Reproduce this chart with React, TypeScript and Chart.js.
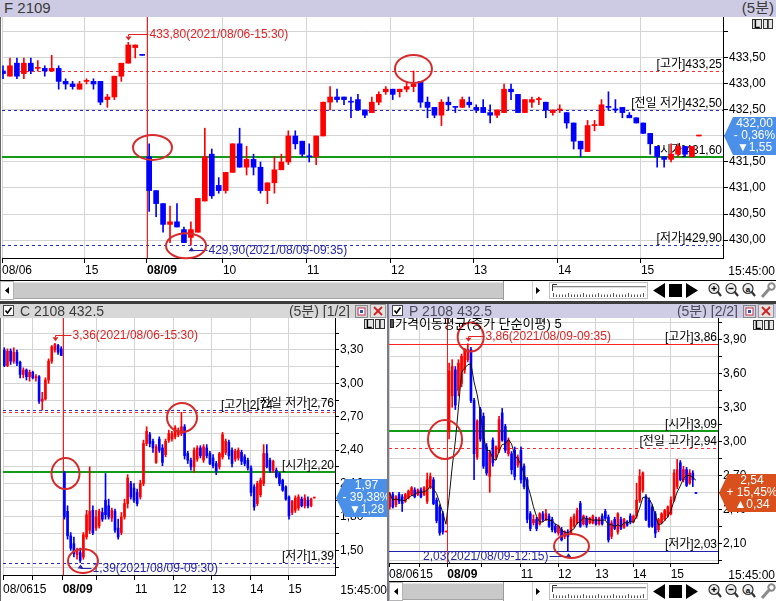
import React, { useEffect, useRef } from 'react';
import { Chart, registerables } from 'chart.js';

Chart.register(...registerables);

const FONT = "'Liberation Sans', 'Noto Sans CJK KR', sans-serif";
const GRID = '#d4d4d4';
const UP = '#ff0000';
const DOWN = '#0000ff';

// ---------------- F 2109 (top panel) : [open, high, low, close] ----------------
const F_OHLC = [
  [433.25, 433.35, 433.10, 433.20], [433.15, 433.50, 433.15, 433.35], [433.40, 433.50, 433.10, 433.15],
  [433.20, 433.50, 433.10, 433.40], [433.40, 433.50, 433.20, 433.25], [433.30, 433.45, 433.25, 433.30],
  [433.30, 433.35, 433.15, 433.25], [433.25, 433.55, 433.25, 433.30], [433.30, 433.35, 432.90, 433.05],
  [433.05, 433.10, 432.90, 433.00], [433.00, 433.05, 432.90, 432.95], [432.90, 433.05, 432.90, 433.00],
  [433.05, 433.10, 433.00, 433.05], [433.05, 433.10, 432.90, 433.00], [433.05, 433.05, 432.60, 432.65],
  [432.70, 432.80, 432.55, 432.75], [432.75, 433.15, 432.70, 433.15], [433.15, 433.40, 433.05, 433.40],
  [433.40, 433.80, 433.40, 433.75], [433.70, 433.75, 433.50, 433.75], [433.55, 433.55, 433.55, 433.55],
  [431.60, 431.85, 430.55, 430.95], [430.95, 430.95, 430.45, 430.70], [430.70, 430.70, 430.15, 430.30],
  [430.30, 430.65, 429.95, 430.35], [430.35, 430.70, 430.25, 430.25], [430.20, 430.25, 429.95, 429.95],
  [430.05, 430.35, 429.90, 430.20], [430.15, 430.80, 430.15, 430.80], [430.75, 432.15, 430.75, 431.60],
  [431.65, 431.75, 430.80, 430.85], [431.05, 431.20, 430.90, 430.95], [430.95, 431.30, 430.90, 431.30],
  [431.30, 431.85, 431.30, 431.85], [431.85, 432.15, 431.40, 431.40], [431.40, 431.80, 431.25, 431.55],
  [431.55, 431.65, 431.25, 431.40], [431.40, 431.50, 430.90, 430.95], [430.95, 431.10, 430.70, 431.10],
  [431.10, 431.60, 430.90, 431.35], [431.35, 431.65, 431.35, 431.50], [431.50, 432.10, 431.45, 432.00],
  [432.00, 432.10, 431.75, 431.85], [431.90, 431.90, 431.60, 431.65], [431.60, 431.85, 431.50, 431.60],
  [431.60, 432.00, 431.45, 432.00], [432.00, 432.65, 432.00, 432.65], [432.65, 432.95, 432.50, 432.75],
  [432.75, 432.90, 432.65, 432.70], [432.75, 432.75, 432.60, 432.70], [432.65, 432.75, 432.35, 432.65],
  [432.70, 432.80, 432.50, 432.50], [432.50, 432.50, 432.35, 432.40], [432.45, 432.75, 432.45, 432.65],
  [432.65, 432.85, 432.60, 432.80], [432.85, 432.95, 432.80, 432.90], [432.90, 432.90, 432.70, 432.80],
  [432.85, 432.90, 432.75, 432.90], [432.90, 433.05, 432.85, 432.95], [432.95, 433.25, 432.85, 433.00],
  [433.05, 433.05, 432.55, 432.65], [432.65, 432.75, 432.35, 432.55], [432.55, 432.55, 432.35, 432.40],
  [432.40, 432.70, 432.20, 432.65], [432.65, 432.75, 432.50, 432.60], [432.55, 432.55, 432.45, 432.55],
  [432.55, 432.75, 432.55, 432.70], [432.65, 432.75, 432.55, 432.60], [432.55, 432.60, 432.45, 432.50],
  [432.55, 432.70, 432.45, 432.45], [432.45, 432.60, 432.25, 432.40], [432.40, 432.50, 432.35, 432.50],
  [432.45, 433.00, 432.45, 432.90], [432.90, 433.00, 432.70, 432.85], [432.80, 432.80, 432.45, 432.45],
  [432.45, 432.70, 432.45, 432.70], [432.65, 432.75, 432.55, 432.70], [432.70, 432.75, 432.60, 432.70],
  [432.65, 432.65, 432.35, 432.50], [432.45, 432.50, 432.40, 432.50], [432.50, 432.60, 432.45, 432.50],
  [432.45, 432.45, 432.15, 432.25], [432.25, 432.25, 431.75, 431.90], [431.90, 431.90, 431.60, 431.75],
  [431.70, 432.30, 431.70, 432.20], [432.20, 432.30, 432.10, 432.20], [432.20, 432.70, 432.20, 432.60],
  [432.55, 432.85, 432.50, 432.55], [432.50, 432.70, 432.45, 432.50], [432.55, 432.55, 432.35, 432.45],
  [432.40, 432.45, 432.35, 432.35], [432.35, 432.35, 432.25, 432.25], [432.25, 432.25, 432.05, 432.05],
  [432.05, 432.05, 431.65, 431.85], [431.80, 431.80, 431.40, 431.60], [431.60, 431.60, 431.40, 431.55],
  [431.55, 431.85, 431.50, 431.65], [431.65, 431.85, 431.60, 431.80], [431.80, 431.80, 431.60, 431.65],
  [431.60, 431.80, 431.60, 431.80], [432.00, 432.00, 432.00, 432.00],
];
const F_X_TICKS = [-0.144, 11.78, 20.69, 31.6, 43.68, 55.75, 67.67, 79.74, 91.67];
const F_X_LABELS = ['08/06', '15', '08/09', '10', '11', '12', '13', '14', '15'];
const F_Y_TICKS = [430, 430.5, 431, 431.5, 432, 432.5, 433, 433.5, 434];
const F_Y_LABELLED = [430, 430.5, 431, 431.5, 432, 432.5, 433, 433.5];
const F_LEVEL_TEXT = ['[고가]', '[전일 저가]', '[시가]', '[저가]'];
const F_LEVEL_VALUE = [433.25, 432.5, 431.6, 429.9];
const F_LAST_TEXT = ['432,00', '- 0,36%', '▼1,55'];
const F_LAST_VALUE = 432.0;

// ---------------- C 2108 432.5 (bottom left) ----------------
const C_OHLC = [
  [3.30, 3.32, 3.15, 3.16], [3.16, 3.31, 3.15, 3.29], [3.29, 3.31, 3.17, 3.20], [3.20, 3.32, 3.18, 3.28],
  [3.28, 3.30, 3.16, 3.18], [3.19, 3.20, 3.05, 3.08], [3.08, 3.14, 3.05, 3.12], [3.12, 3.13, 3.03, 3.06],
  [3.06, 3.12, 3.02, 3.10], [3.10, 3.11, 3.04, 3.05], [3.05, 3.08, 3.02, 3.06], [3.06, 3.07, 2.82, 2.84],
  [2.84, 2.92, 2.76, 2.86], [2.86, 3.05, 2.85, 3.03], [3.03, 3.22, 3.00, 3.20], [3.20, 3.34, 3.18, 3.33],
  [3.30, 3.36, 3.28, 3.35], [3.34, 3.35, 3.26, 3.28], [3.31, 3.33, 3.25, 3.25],
  [2.20, 2.21, 1.78, 1.80], [1.85, 1.90, 1.60, 1.63], [1.63, 1.66, 1.50, 1.52], [1.56, 1.62, 1.44, 1.47],
  [1.46, 1.52, 1.42, 1.50], [1.48, 1.52, 1.39, 1.41], [1.44, 1.66, 1.42, 1.64], [1.62, 1.86, 1.60, 1.82],
  [1.68, 2.25, 1.65, 1.85], [1.86, 1.90, 1.64, 1.66], [1.70, 1.86, 1.68, 1.80], [1.72, 1.87, 1.70, 1.85],
  [1.84, 1.88, 1.76, 1.78], [1.95, 2.19, 1.78, 1.82], [1.90, 1.96, 1.78, 1.80], [1.79, 1.88, 1.76, 1.86],
  [1.85, 1.87, 1.66, 1.68], [1.70, 1.78, 1.60, 1.62], [1.66, 1.84, 1.64, 1.80], [1.80, 1.96, 1.78, 1.92],
  [1.92, 2.18, 1.88, 2.15], [2.10, 2.12, 1.96, 1.98], [2.06, 2.10, 1.93, 1.95], [2.02, 2.05, 1.90, 1.92],
  [1.98, 2.13, 1.96, 2.10], [2.10, 2.49, 2.08, 2.46], [2.46, 2.61, 2.44, 2.57], [2.54, 2.56, 2.43, 2.46],
  [2.48, 2.50, 2.38, 2.42], [2.29, 2.45, 2.28, 2.43], [2.50, 2.52, 2.38, 2.40], [2.42, 2.45, 2.26, 2.29],
  [2.36, 2.50, 2.34, 2.48], [2.49, 2.58, 2.47, 2.55], [2.50, 2.57, 2.48, 2.55], [2.52, 2.62, 2.50, 2.60],
  [2.54, 2.60, 2.52, 2.58], [2.55, 2.74, 2.53, 2.61], [2.61, 2.63, 2.32, 2.35], [2.37, 2.39, 2.28, 2.31],
  [2.31, 2.33, 2.22, 2.25], [2.25, 2.42, 2.20, 2.40], [2.32, 2.44, 2.30, 2.42], [2.42, 2.44, 2.33, 2.35],
  [2.31, 2.45, 2.29, 2.43], [2.42, 2.45, 2.33, 2.35], [2.37, 2.39, 2.27, 2.28], [2.33, 2.36, 2.24, 2.26],
  [2.28, 2.30, 2.18, 2.21], [2.25, 2.38, 2.23, 2.37], [2.34, 2.56, 2.32, 2.54], [2.38, 2.50, 2.36, 2.48],
  [2.47, 2.49, 2.32, 2.35], [2.40, 2.42, 2.25, 2.28], [2.32, 2.41, 2.30, 2.39], [2.33, 2.42, 2.31, 2.40],
  [2.38, 2.40, 2.27, 2.30], [2.34, 2.36, 2.26, 2.28], [2.31, 2.33, 2.22, 2.24], [2.24, 2.26, 1.99, 2.02],
  [2.07, 2.09, 1.86, 1.89], [1.92, 2.12, 1.90, 2.10], [2.00, 2.15, 1.98, 2.13], [2.10, 2.45, 2.08, 2.37],
  [2.37, 2.45, 2.24, 2.25], [2.31, 2.33, 2.20, 2.22], [2.22, 2.31, 2.20, 2.30], [2.22, 2.24, 2.15, 2.16],
  [2.19, 2.20, 2.08, 2.10], [2.13, 2.14, 2.03, 2.04], [2.07, 2.08, 1.95, 1.96], [1.98, 1.99, 1.78, 1.81],
  [1.84, 1.95, 1.82, 1.94], [1.86, 1.99, 1.84, 1.97], [1.88, 2.00, 1.86, 1.98], [1.96, 1.98, 1.89, 1.90],
  [1.90, 2.00, 1.88, 1.97], [1.95, 1.98, 1.88, 1.90], [1.90, 1.97, 1.89, 1.96], [1.97, 1.97, 1.97, 1.97],
];
const C_X_TICKS = [-0.411, 9.07, 18.46, 29.21, 41.32, 53.43, 65.57, 77.68, 89.79];
const C_X_LABELS = ['08/06', '15', '08/09', '', '11', '12', '13', '14', '15'];
const C_Y_TICKS = [1.35, 1.5, 1.65, 1.8, 1.95, 2.1, 2.25, 2.4, 2.55, 2.7, 2.85, 3.0, 3.15, 3.3, 3.45];
const C_Y_LABELLED = [1.5, 1.8, 2.1, 2.4, 2.7, 3.0, 3.3];
const C_LEVEL_TEXT = ['[전일 저가]', '[고가]', '[시가]', '[저가]'];
const C_LEVEL_VALUE = [2.76, 2.74, 2.2, 1.39];
const C_LAST_TEXT = ['1,97', '- 39,38%', '▼1,28'];
const C_LAST_VALUE = 1.97;

// ---------------- P 2108 432.5 (bottom right) ----------------
const P_OHLC = [
  [2.42, 2.55, 2.40, 2.54], [2.53, 2.55, 2.41, 2.42], [2.44, 2.52, 2.42, 2.51], [2.53, 2.55, 2.45, 2.47],
  [2.51, 2.53, 2.38, 2.45], [2.47, 2.54, 2.46, 2.53], [2.50, 2.57, 2.49, 2.56], [2.53, 2.60, 2.52, 2.59],
  [2.57, 2.59, 2.50, 2.51], [2.53, 2.58, 2.52, 2.57], [2.57, 2.59, 2.50, 2.51], [2.53, 2.60, 2.52, 2.59],
  [2.47, 2.72, 2.45, 2.66], [2.60, 2.72, 2.58, 2.69], [2.66, 2.68, 2.44, 2.45], [2.48, 2.50, 2.28, 2.30],
  [2.42, 2.44, 2.17, 2.19], [2.36, 2.38, 2.18, 2.20], [2.20, 2.20, 2.20, 2.20],
  [3.09, 3.69, 3.02, 3.62], [3.40, 3.72, 3.30, 3.66], [3.63, 3.66, 3.28, 3.32], [3.45, 3.72, 3.40, 3.69],
  [3.51, 3.77, 3.48, 3.75], [3.63, 3.82, 3.60, 3.81], [3.72, 3.86, 3.70, 3.81], [3.81, 3.83, 3.34, 3.36],
  [3.36, 3.38, 2.66, 2.89], [2.86, 3.19, 2.84, 3.18], [3.28, 3.30, 3.00, 3.02], [3.22, 3.25, 2.76, 2.78],
  [2.95, 2.98, 2.70, 2.72], [2.69, 2.92, 2.55, 2.90], [3.01, 3.03, 2.78, 2.81], [2.86, 2.96, 2.84, 2.95],
  [2.92, 3.22, 2.90, 3.19], [3.25, 3.29, 3.00, 3.01], [3.13, 3.15, 2.90, 2.92], [2.89, 3.03, 2.87, 3.01],
  [2.89, 2.91, 2.71, 2.75], [2.92, 2.95, 2.66, 2.69], [2.79, 2.88, 2.77, 2.86], [2.92, 2.95, 2.63, 2.66],
  [2.78, 2.80, 2.58, 2.60], [2.66, 2.68, 2.28, 2.31], [2.36, 2.38, 2.21, 2.23], [2.28, 2.35, 2.26, 2.31],
  [2.31, 2.33, 2.21, 2.23], [2.27, 2.37, 2.26, 2.36], [2.36, 2.38, 2.29, 2.31], [2.31, 2.40, 2.30, 2.36],
  [2.34, 2.36, 2.24, 2.25], [2.31, 2.33, 2.20, 2.22], [2.25, 2.27, 2.19, 2.20], [2.19, 2.26, 2.17, 2.25],
  [2.22, 2.24, 2.12, 2.13], [2.16, 2.21, 2.14, 2.20], [2.20, 2.22, 2.03, 2.16], [2.19, 2.33, 2.18, 2.31],
  [2.25, 2.36, 2.24, 2.34], [2.28, 2.41, 2.27, 2.39], [2.45, 2.47, 2.24, 2.25], [2.27, 2.35, 2.26, 2.34],
  [2.32, 2.34, 2.24, 2.26], [2.28, 2.33, 2.27, 2.32], [2.28, 2.35, 2.27, 2.34], [2.31, 2.33, 2.26, 2.27],
  [2.27, 2.33, 2.26, 2.32], [2.34, 2.36, 2.26, 2.27], [2.38, 2.40, 2.31, 2.32], [2.33, 2.35, 2.11, 2.13],
  [2.16, 2.30, 2.14, 2.28], [2.31, 2.33, 2.22, 2.23], [2.20, 2.37, 2.18, 2.36], [2.31, 2.33, 2.22, 2.23],
  [2.24, 2.32, 2.23, 2.31], [2.29, 2.30, 2.25, 2.26], [2.34, 2.36, 2.27, 2.29], [2.29, 2.35, 2.28, 2.34],
  [2.34, 2.63, 2.32, 2.48], [2.48, 2.75, 2.46, 2.69], [2.57, 2.73, 2.55, 2.72], [2.51, 2.53, 2.30, 2.31],
  [2.48, 2.50, 2.24, 2.25], [2.42, 2.44, 2.24, 2.25], [2.36, 2.38, 2.15, 2.19], [2.22, 2.32, 2.20, 2.31],
  [2.28, 2.37, 2.27, 2.36], [2.31, 2.40, 2.30, 2.39], [2.34, 2.43, 2.33, 2.42], [2.36, 2.51, 2.35, 2.48],
  [2.48, 2.75, 2.47, 2.72], [2.60, 2.84, 2.58, 2.75], [2.81, 2.83, 2.65, 2.66], [2.66, 2.78, 2.64, 2.75],
  [2.75, 2.77, 2.60, 2.61], [2.63, 2.75, 2.62, 2.72], [2.72, 2.74, 2.60, 2.66], [2.54, 2.54, 2.54, 2.54],
];
const P_X_TICKS = [-0.224, 9.6, 18.43, 29.31, 41.92, 53.86, 65.79, 77.86, 89.92];
const P_X_LABELS = ['08/06', '15', '08/09', '', '11', '12', '13', '14', '15'];
const P_Y_TICKS = [1.95, 2.1, 2.25, 2.4, 2.55, 2.7, 2.85, 3.0, 3.15, 3.3, 3.45, 3.6, 3.75, 3.9, 4.05];
const P_Y_LABELLED = [2.1, 2.4, 2.7, 3.0, 3.3, 3.6, 3.9];
const P_LEVEL_TEXT = ['[고가]', '[시가]', '[전일 고가]', '[저가]'];
const P_LEVEL_VALUE = [3.86, 3.09, 2.94, 2.03];
const P_LAST_TEXT = ['2,54', '+ 15,45%', '▲0,34'];
const P_LAST_VALUE = 2.54;
const P_MA_PERIOD = 5;
const P_LEGEND = '가격이동평균(종가 단순이평) 5';

// ---------------- styles ----------------
const LINE_STYLES: any = {
  redDash: { color: '#ff2a2a', width: 1, dash: [3, 3] },
  blueDash: { color: '#2a2ac4', width: 1, dash: [3, 3] },
  green: { color: '#139a18', width: 2, dash: [] },
  redSolid: { color: '#ff2020', width: 1, dash: [] },
  blueSolid: { color: '#2222aa', width: 1, dash: [] },
};
const DAY_BREAK_COLOR = '#ff1a1a';
const NOTE_RED = '#e02222';
const NOTE_BLUE = '#2626a6';
const BOX_BLUE = '#4a8fe8';
const BOX_ORANGE = '#d9501c';

const fmt = (v: number) => v.toFixed(2).replace('.', ',');

function candleColors(ohlc: number[][]) {
  return ohlc.map((c, i) => {
    const o = c[0], cl = c[3];
    if (cl > o) return UP;
    if (cl < o) return DOWN;
    const prev = i > 0 ? ohlc[i - 1][3] : Infinity;
    return cl >= prev ? UP : DOWN;
  });
}

function sma(values: number[], n: number) {
  return values.map((_, i) => {
    const s = values.slice(Math.max(0, i - n + 1), i + 1);
    return s.reduce((a, b) => a + b, 0) / s.length;
  });
}

const F_CFG = {
  id: 'f', width: 776, height: 264, padLeft: 2, yAxisW: 53, xAxisH: 23, yTickLen: 5, xTickLen: 5, xPad: 0,
  ohlc: F_OHLC, bodyW: 5, xMin: -0.144, xMax: 103.46, yMin: 429.654, yMax: 434.288,
  xTicks: F_X_TICKS, xLabels: F_X_LABELS, boldIdx: 2, dayBreak: F_X_TICKS[2],
  yTicks: F_Y_TICKS, yLabelled: F_Y_LABELLED,
  levels: [
    { text: F_LEVEL_TEXT[0], value: F_LEVEL_VALUE[0], style: 'redDash' },
    { text: F_LEVEL_TEXT[1], value: F_LEVEL_VALUE[1], style: 'blueDash' },
    { text: F_LEVEL_TEXT[2], value: F_LEVEL_VALUE[2], style: 'green' },
    { text: F_LEVEL_TEXT[3], value: F_LEVEL_VALUE[3], style: 'blueDash' },
  ],
  notes: [
    { i: 18, v: 433.8, text: '433,80(2021/08/06-15:30)', color: NOTE_RED, above: true, gap: 20, left: false },
    { i: 27, v: 429.9, text: '429,90(2021/08/09-09:35)', color: NOTE_BLUE, above: false, gap: 16, left: false },
  ],
  circles: [
    { i: 21.48, v: 431.78, rx: 19.5, ry: 12.5 },
    { i: 26.3, v: 429.89, rx: 20, ry: 12.5 },
    { i: 58.98, v: 433.29, rx: 18.5, ry: 14 },
  ],
  lastValue: F_LAST_VALUE, lastText: F_LAST_TEXT, boxColor: BOX_BLUE,
};

const C_CFG = {
  id: 'c', width: 388, height: 283, padLeft: 3, yAxisW: 53, xAxisH: 26, yTickLen: 4, xTickLen: 5, xPad: 2,
  ohlc: C_OHLC, bodyW: 2, xMin: -0.411, xMax: 104.55, yMin: 1.2784, yMax: 3.5875,
  xTicks: C_X_TICKS, xLabels: C_X_LABELS, boldIdx: 2, dayBreak: C_X_TICKS[2],
  yTicks: C_Y_TICKS, yLabelled: C_Y_LABELLED,
  levels: [
    { text: C_LEVEL_TEXT[0], value: C_LEVEL_VALUE[0], style: 'blueDash' },
    { text: C_LEVEL_TEXT[1], value: C_LEVEL_VALUE[1], style: 'redDash', shift: -61 },
    { text: C_LEVEL_TEXT[2], value: C_LEVEL_VALUE[2], style: 'green' },
    { text: C_LEVEL_TEXT[3], value: C_LEVEL_VALUE[3], style: 'blueDash' },
  ],
  notes: [
    { i: 16, v: 3.36, text: '3,36(2021/08/06-15:30)', color: NOTE_RED, above: true, gap: 16, left: false },
    { i: 24, v: 1.39, text: '1,39(2021/08/09-09:30)', color: NOTE_BLUE, above: false, gap: 11, left: false },
  ],
  circles: [
    { i: 19.35, v: 2.19, rx: 14, ry: 15.5 },
    { i: 24.88, v: 1.404, rx: 15, ry: 12 },
    { i: 56.18, v: 2.694, rx: 15, ry: 14.5 },
  ],
  lastValue: C_LAST_VALUE, lastText: C_LAST_TEXT, boxColor: BOX_BLUE,
};

const P_CFG = {
  id: 'p', width: 388, height: 264, padLeft: 1, yAxisW: 58, xAxisH: 19, yTickLen: 4, xTickLen: 4, xPad: 0,
  ohlc: P_OHLC, bodyW: 2, xMin: -0.224, xMax: 105.06, yMin: 1.9256, yMax: 4.088,
  xTicks: P_X_TICKS, xLabels: P_X_LABELS, boldIdx: 2, dayBreak: P_X_TICKS[2],
  yTicks: P_Y_TICKS, yLabelled: P_Y_LABELLED,
  levels: [
    { text: P_LEVEL_TEXT[0], value: P_LEVEL_VALUE[0], style: 'redSolid' },
    { text: P_LEVEL_TEXT[1], value: P_LEVEL_VALUE[1], style: 'green' },
    { text: P_LEVEL_TEXT[2], value: P_LEVEL_VALUE[2], style: 'redDash' },
    { text: P_LEVEL_TEXT[3], value: P_LEVEL_VALUE[3], style: 'blueSolid' },
  ],
  notes: [
    { i: 25, v: 3.86, text: '3,86(2021/08/09-09:35)', color: NOTE_RED, above: true, gap: 16, left: false },
    { i: 57, v: 2.03, text: '2,03(2021/08/09-12:15)', color: NOTE_BLUE, above: false, gap: 19, left: true },
  ],
  circles: [
    { i: 17.7, v: 3.016, rx: 17, ry: 19.5 },
    { i: 25.92, v: 3.92, rx: 13, ry: 14.5 },
    { i: 58.18, v: 2.076, rx: 17.5, ry: 12 },
  ],
  lastValue: P_LAST_VALUE, lastText: P_LAST_TEXT, boxColor: BOX_ORANGE,
  maPeriod: P_MA_PERIOD, legend: P_LEGEND,
};

function makePlugin(cfg: any) {
  return {
    id: 'hts_' + cfg.id,
    beforeDatasetsDraw(chart: any) {
      const { ctx, chartArea: a } = chart;
      const x = chart.scales.x, y = chart.scales.y;
      ctx.save();
      ctx.beginPath();
      ctx.rect(a.left, a.top, a.right - a.left, a.bottom - a.top);
      ctx.clip();
      // levels
      for (const lv of cfg.levels) {
        const st = LINE_STYLES[lv.style];
        const ly = y.getPixelForValue(lv.value);
        const yy = st.width % 2 ? Math.round(ly) + 0.5 : Math.round(ly);
        ctx.strokeStyle = st.color;
        ctx.lineWidth = st.width;
        ctx.setLineDash(st.dash);
        ctx.beginPath();
        ctx.moveTo(a.left, yy);
        ctx.lineTo(a.right, yy);
        ctx.stroke();
      }
      ctx.setLineDash([]);
      // day break
      const bx = Math.round(x.getPixelForValue(cfg.dayBreak)) + 0.5;
      ctx.strokeStyle = DAY_BREAK_COLOR;
      ctx.lineWidth = 1;
      ctx.beginPath();
      ctx.moveTo(bx, a.top);
      ctx.lineTo(bx, a.bottom);
      ctx.stroke();
      // level labels
      ctx.font = `12px ${FONT}`;
      ctx.fillStyle = '#000';
      ctx.textAlign = 'right';
      ctx.textBaseline = 'alphabetic';
      for (const lv of cfg.levels) {
        const ly = y.getPixelForValue(lv.value);
        ctx.fillText(lv.text + fmt(lv.value), a.right - 1 + (lv.shift || 0), Math.round(ly) - 3);
      }
      ctx.restore();
    },
    afterDatasetsDraw(chart: any) {
      const { ctx, chartArea: a } = chart;
      const x = chart.scales.x, y = chart.scales.y;
      ctx.save();
      // annotations
      ctx.font = `12px ${FONT}`;
      ctx.lineWidth = 1;
      for (const n of cfg.notes) {
        const cx = Math.round(x.getPixelForValue(n.i)) + 0.5;
        const vy = y.getPixelForValue(n.v);
        const ty = Math.round(n.above ? vy - 8 : vy + 5) + 0.5;
        const tip = n.above ? vy - 2 : vy + 2;
        const head = n.above ? -4 : 4;
        ctx.strokeStyle = n.color;
        ctx.fillStyle = n.color;
        ctx.beginPath();
        ctx.moveTo(cx, ty);
        ctx.lineTo(cx, tip + head);
        ctx.stroke();
        ctx.beginPath();
        ctx.moveTo(cx - 3, tip + head);
        ctx.lineTo(cx + 3, tip + head);
        ctx.lineTo(cx, tip);
        ctx.closePath();
        ctx.fill();
        const dir = n.left ? -1 : 1;
        const tx = cx + dir * n.gap;
        ctx.beginPath();
        ctx.moveTo(cx, ty);
        ctx.lineTo(tx, ty);
        ctx.stroke();
        ctx.textAlign = n.left ? 'right' : 'left';
        ctx.textBaseline = 'middle';
        ctx.fillText(n.text, tx + dir, ty);
      }
      // red circles
      ctx.strokeStyle = '#d82a2a';
      ctx.lineWidth = 2;
      for (const c of cfg.circles) {
        ctx.beginPath();
        ctx.ellipse(x.getPixelForValue(c.i), y.getPixelForValue(c.v), c.rx, c.ry, 0, 0, Math.PI * 2);
        ctx.stroke();
      }
      // legend
      if (cfg.legend) {
        ctx.fillStyle = '#555';
        ctx.fillRect(a.left + 1, a.top + 1, 3, 8);
        ctx.strokeStyle = '#222';
        ctx.lineWidth = 1;
        ctx.strokeRect(a.left + 1.5, a.top + 1.5, 3, 8);
        ctx.fillStyle = '#000';
        ctx.font = `13px ${FONT}`;
        ctx.textAlign = 'left';
        ctx.textBaseline = 'middle';
        ctx.fillText(cfg.legend, a.left + 6, a.top + 6);
      }
      ctx.restore();
    },
    afterDraw(chart: any) {
      const { ctx, chartArea: a } = chart;
      const y = chart.scales.y;
      ctx.save();
      // current price box
      const py = Math.round(y.getPixelForValue(cfg.lastValue));
      const L = a.right + 1, R = chart.width, h = 19;
      ctx.fillStyle = cfg.boxColor;
      ctx.beginPath();
      ctx.moveTo(L, py);
      ctx.lineTo(L + 9, py - h);
      ctx.lineTo(R, py - h);
      ctx.lineTo(R, py + h);
      ctx.lineTo(L + 9, py + h);
      ctx.closePath();
      ctx.fill();
      ctx.fillStyle = '#fff';
      ctx.font = `12px ${FONT}`;
      ctx.textAlign = 'center';
      ctx.textBaseline = 'middle';
      const mid = (L + 9 + R) / 2;
      cfg.lastText.forEach((t: string, k: number) => ctx.fillText(t, mid, py - 12 + k * 12));
      // time label
      ctx.fillStyle = '#000';
      ctx.textAlign = 'right';
      ctx.fillText('15:45:00', chart.width - 1, a.bottom + cfg.xTickLen + cfg.xPad + 9);
      ctx.restore();
    },
  };
}

function buildConfig(cfg: any) {
  const colors = candleColors(cfg.ohlc);
  const datasets: any[] = [
    {
      type: 'bar', order: 3, grouped: false, barThickness: 1, borderWidth: 0,
      backgroundColor: colors,
      data: cfg.ohlc.map((c: number[], i: number) => ({ x: i, y: [c[2], c[1]] })),
    },
    {
      type: 'bar', order: 2, grouped: false, barThickness: cfg.bodyW, minBarLength: 1, borderWidth: 0,
      backgroundColor: colors,
      data: cfg.ohlc.map((c: number[], i: number) => ({ x: i, y: [c[0], c[3]] })),
    },
  ];
  if (cfg.maPeriod) {
    const ma = sma(cfg.ohlc.map((c: number[]) => c[3]), cfg.maPeriod);
    datasets.push({
      type: 'line', order: 1, borderColor: '#111', borderWidth: 1, pointRadius: 0, tension: 0,
      data: ma.map((v, i) => ({ x: i, y: v })),
    });
  }
  return {
    type: 'bar',
    data: { datasets },
    options: {
      responsive: false, animation: false, devicePixelRatio: 1, events: [],
      layout: { padding: { left: cfg.padLeft, top: 0, right: 0, bottom: 0 } },
      plugins: { legend: { display: false }, tooltip: { enabled: false } },
      scales: {
        x: {
          type: 'linear', min: cfg.xMin, max: cfg.xMax, offset: false,
          grid: { color: GRID, lineWidth: 1, offset: false, drawTicks: true, tickLength: cfg.xTickLen, tickColor: '#000' },
          border: { display: true, color: '#000', width: 1 },
          afterBuildTicks: (s: any) => { s.ticks = cfg.xTicks.map((v: number) => ({ value: v })); },
          afterFit: (s: any) => { s.height = cfg.xAxisH; s.paddingLeft = 0; s.paddingRight = 0; },
          ticks: {
            autoSkip: false, maxRotation: 0, minRotation: 0, align: 'start', padding: cfg.xPad, color: '#000',
            callback: (_v: any, i: number) => cfg.xLabels[i],
            font: (c: any) => ({ family: FONT, size: 12, weight: c.index === cfg.boldIdx ? 'bold' : 'normal' }),
          },
        },
        y: {
          type: 'linear', position: 'right', min: cfg.yMin, max: cfg.yMax,
          grid: { color: GRID, lineWidth: 1, drawTicks: true, tickLength: cfg.yTickLen, tickColor: '#000' },
          border: { display: true, color: '#000', width: 1 },
          afterBuildTicks: (s: any) => { s.ticks = cfg.yTicks.map((v: number) => ({ value: v })); },
          afterFit: (s: any) => { s.width = cfg.yAxisW; s.paddingTop = 0; s.paddingBottom = 0; },
          ticks: {
            autoSkip: false, padding: 1, color: '#000', font: { family: FONT, size: 12 },
            callback: (v: number) => (cfg.yLabelled.some((t: number) => Math.abs(t - v) < 1e-6) ? fmt(v) : ''),
          },
        },
      },
    },
    plugins: [makePlugin(cfg)],
  };
}

function PanelChart({ cfg, left, top }: any) {
  const ref = useRef<HTMLCanvasElement>(null);
  useEffect(() => {
    const chart = new Chart(ref.current as any, buildConfig(cfg) as any);
    return () => chart.destroy();
  }, [cfg]);
  return (
    <canvas
      ref={ref}
      width={cfg.width}
      height={cfg.height}
      style={{ position: 'absolute', left, top, width: cfg.width, height: cfg.height, display: 'block' }}
    />
  );
}

function LIButton({ left, top }: any) {
  const cell: any = {
    width: 10, height: 10, border: '1px solid #333', background: '#e6e6e6', fontSize: 10, lineHeight: '10px',
    textAlign: 'center', fontWeight: 'bold', color: '#000', boxSizing: 'border-box',
  };
  return (
    <div style={{ position: 'absolute', left, top, display: 'flex', gap: 1 }}>
      <div style={cell}>L</div>
      <div style={cell}>I</div>
    </div>
  );
}

function Toolbar({ left, top, width }: any) {
  const cluster = 273;
  const ticks: any[] = [];
  for (let k = 0; k < 31; k++) {
    const xx = 50.5 + k * 3;
    ticks.push(<line key={k} x1={xx} x2={xx} y1={k % 5 === 0 ? 12 : 13.5} y2={16} stroke="#555" strokeWidth={1} />);
  }
  return (
    <div style={{ position: 'absolute', left, top, width, height: 21, background: '#fff', borderTop: '1px solid #000', boxSizing: 'border-box' }}>
      <svg width={14} height={19} style={{ position: 'absolute', left: 0, top: 0 }}>
        <rect x={0.5} y={0.5} width={13} height={18} fill="#fff" stroke="#b4b4b4" />
        <polygon points="9,6 5,9.5 9,13" fill="#000" />
      </svg>
      <div style={{ position: 'absolute', left: 14, top: 1, height: 17, width: width - 14 - cluster, background: '#c9c9c9', borderTop: '1px solid #e4e4e4', borderBottom: '1px solid #a4a4a4', boxSizing: 'border-box' }} />
      <svg width={cluster} height={19} style={{ position: 'absolute', left: width - cluster, top: 0 }}>
        <line x1={0.5} x2={0.5} y1={0} y2={19} stroke="#9a9a9a" />
        <line x1={29.5} x2={29.5} y1={0} y2={19} stroke="#d0d0d0" />
        <polygon points="33,6 37,9.5 33,13" fill="#000" />
        <rect x={46.5} y={1.5} width={98} height={16} fill="#fff" stroke="#c0c0c0" />
        <line x1={50} x2={143} y1={5.5} y2={5.5} stroke="#888" />
        <line x1={50} x2={143} y1={6.5} y2={6.5} stroke="#ddd" />
        <polyline points="49.5,10 49.5,3.5 54,3.5" fill="none" stroke="#333" />
        {ticks}
        <polygon points="162,2 150,9.5 162,17" fill="#000" />
        <rect x={166} y={3} width={13} height={13} fill="#000" />
        <polygon points="183,2 195,9.5 183,17" fill="#000" />
        {[211, 228, 245].map((cx, k) => (
          <g key={cx}>
            <line x1={cx + 3} y1={10} x2={cx + 7} y2={15} stroke="#333" strokeWidth={2.2} />
            <circle cx={cx} cy={7.5} r={5} fill="#ececec" stroke="#333" strokeWidth={1.2} />
            {k < 2 && <line x1={cx - 2.5} x2={cx + 2.5} y1={7.5} y2={7.5} stroke="#000" strokeWidth={1.3} />}
            {k === 0 && <line x1={cx} x2={cx} y1={5} y2={10} stroke="#000" strokeWidth={1.3} />}
            {k === 2 && <text x={cx} y={10.5} fontSize={8} fontWeight="bold" textAnchor="middle" fontFamily={FONT}>a</text>}
          </g>
        ))}
        <line x1={259} y1={16} x2={267} y2={7} stroke="#8a8a8a" strokeWidth={3} />
        <circle cx={268.5} cy={5.5} r={3.2} fill="none" stroke="#8a8a8a" strokeWidth={2} />
      </svg>
    </div>
  );
}

function Header({ left, top, width, bg, title, info, titleColor }: any) {
  return (
    <div style={{ position: 'absolute', left, top, width, height: 14, background: bg, overflow: 'hidden' }}>
      <svg width={12} height={12} style={{ position: 'absolute', left: 3, top: 1 }}>
        <rect x={0.5} y={0.5} width={10} height={10} fill="#fff" stroke="#444" />
        <polyline points="2.5,5.5 4.5,8 8.5,2.5" fill="none" stroke="#000" strokeWidth={1.6} />
      </svg>
      <span style={{ position: 'absolute', left: 20, top: -2, fontSize: 14, lineHeight: '18px', color: titleColor, whiteSpace: 'nowrap' }}>{title}</span>
      <span style={{ position: 'absolute', right: 38, top: -2, fontSize: 14, lineHeight: '18px', color: titleColor, whiteSpace: 'nowrap' }}>{info}</span>
      <svg width={13} height={13} style={{ position: 'absolute', right: 20, top: 0.5 }}>
        <rect x={0.5} y={0.5} width={12} height={12} fill="#d6d6d6" stroke="#888" />
        <rect x={3} y={3} width={7} height={7} fill="#fff" stroke="#c03060" />
        <rect x={5} y={5} width={3} height={3} fill="#3050c0" />
      </svg>
      <svg width={16} height={14} style={{ position: 'absolute', right: 2, top: 0 }}>
        <rect x={0.5} y={0.5} width={15} height={13} fill="#e2e2e2" stroke="#999" />
        <line x1={4} y1={3} x2={12} y2={11} stroke="#d02020" strokeWidth={1.8} />
        <line x1={12} y1={3} x2={4} y2={11} stroke="#d02020" strokeWidth={1.8} />
      </svg>
    </div>
  );
}

export default function App() {
  return (
    <div style={{ position: 'absolute', left: 0, top: 0, width: 776, height: 601, background: '#fff', overflow: 'hidden', fontFamily: FONT }}>
      {/* top panel header */}
      <div style={{ position: 'absolute', left: 0, top: 0, width: 776, height: 17, background: '#cdcbe4' }}>
        <span style={{ position: 'absolute', left: 4, top: -1, fontSize: 15, lineHeight: '18px', color: '#3a3a3a' }}>F 2109</span>
        <span style={{ position: 'absolute', right: 2, top: -1, fontSize: 15, lineHeight: '18px', color: '#3a3a3a' }}>(5분)</span>
      </div>
      <PanelChart cfg={F_CFG} left={0} top={17} />
      <div style={{ position: 'absolute', left: 0, top: 17, width: 1, height: 264, background: '#666' }} />
      <LIButton left={752} top={19} />
      <Toolbar left={0} top={280} width={776} />
      <div style={{ position: 'absolute', left: 0, top: 301, width: 776, height: 3, background: '#3c3c3c' }} />

      {/* bottom left panel */}
      <Header left={0} top={304} width={388} bg="#d8d8d8" title="C 2108 432.5" info="(5분) [1/2]" titleColor="#3a3a3a" />
      <PanelChart cfg={C_CFG} left={0} top={318} />
      <div style={{ position: 'absolute', left: 0, top: 318, width: 1, height: 283, background: '#666' }} />
      <LIButton left={364} top={319} />

      {/* bottom right panel */}
      <Header left={389} top={304} width={387} bg="#cfcde5" title="P 2108 432.5" info="(5분) [2/2]" titleColor="#4a4a5a" />
      <PanelChart cfg={P_CFG} left={388} top={318} />
      <div style={{ position: 'absolute', left: 387, top: 304, width: 2, height: 297, background: '#7a7a8a' }} />
      <LIButton left={753} top={320} />
      <Toolbar left={389} top={581} width={387} />
    </div>
  );
}
